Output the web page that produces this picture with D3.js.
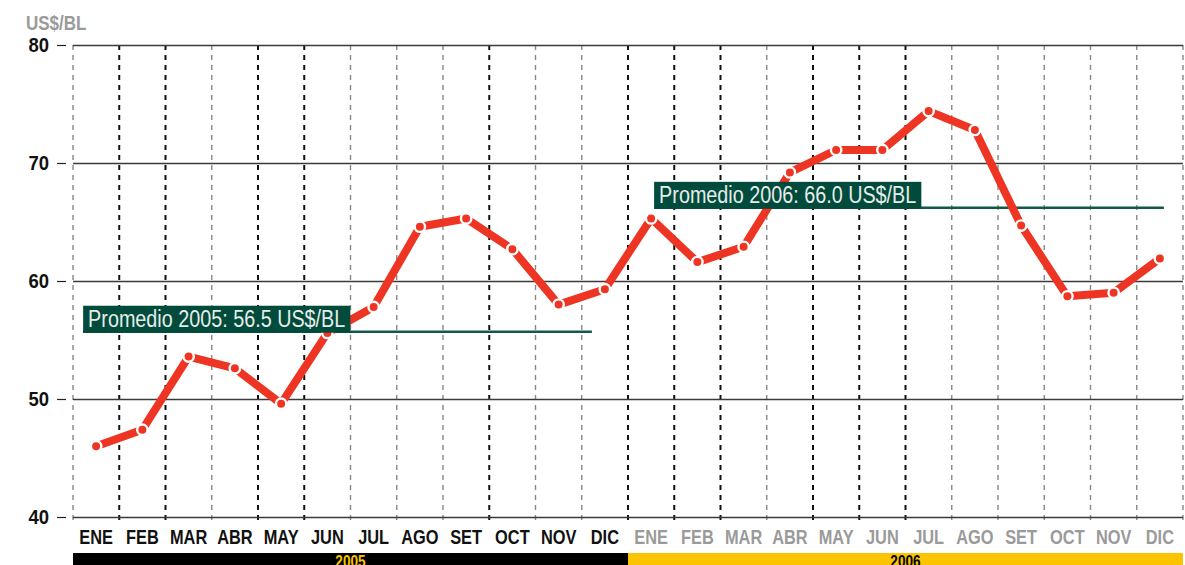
<!DOCTYPE html>
<html>
<head>
<meta charset="utf-8">
<script src="https://cdn.jsdelivr.net/npm/d3@7"></script>
<style>
  body { margin: 0; background: #fff; }
  svg { display: block; }
  text { font-family: "Liberation Sans", Arial, sans-serif; }
</style>
</head>
<body>
<div id="chart"></div>
<script>
// data
var months     = ['ENE','FEB','MAR','ABR','MAY','JUN','JUL','AGO','SET','OCT','NOV','DIC'];
var years      = ['2005','2006'];
var price2005  = [46.0, 47.4, 53.6, 52.6, 49.6, 55.6, 57.8, 64.6, 65.3, 62.7, 58.0, 59.3];
var price2006  = [65.3, 61.6, 62.9, 69.2, 71.1, 71.1, 74.4, 72.8, 64.7, 58.7, 59.0, 61.9];
var avgLevel   = [55.7, 66.2];
var avgLabel   = ['Promedio 2005: 56.5 US$/BL', 'Promedio 2006: 66.0 US$/BL'];
var yTicks     = [40, 50, 60, 70, 80];

// config
var width   = 1185
  , height  = 565
  , margin  = { top: 45, right: 2, bottom: 48, left: 73 }
  , red     = '#ee3524'
  , green   = '#004b3b'
  , yellow  = '#fcc400'
  , grey    = '#9a9a9a'
;

// squeeze a text horizontally (no condensed face installed)
function condense(sel, k) {
  sel.each(function () {
    var t = d3.select(this);
    var x0 = +t.attr('x') || 0;
    t.attr('x', x0 / k).attr('transform', 'scale(' + k + ',1)');
  });
}

var keys = [];
years.forEach(function (y) { months.forEach(function (m) { keys.push(y + '-' + m); }); });
var series = price2005.concat(price2006).map(function (v, i) { return { key: keys[i], value: v }; });

var innerW = width - margin.left - margin.right;
var innerH = height - margin.top - margin.bottom;

var x = d3.scaleBand().domain(keys).range([0, innerW]);
var y = d3.scaleLinear().domain([40, 80]).range([innerH, 0]);

var svg = d3.select('#chart').append('svg')
    .attr('width', width)
    .attr('height', height);

var g = svg.append('g').attr('transform', 'translate(' + margin.left + ',' + margin.top + ')');

// month separators (dashed), some printed darker
var darkRules = [1, 2, 4, 5, 9, 12, 13, 14, 16, 17, 18];
var bounds = d3.range(keys.length + 1);
g.append('g').selectAll('line')
    .data(bounds)
    .enter().append('line')
    .attr('x1', function (i) { return i < keys.length ? x(keys[i]) : innerW; })
    .attr('x2', function (i) { return i < keys.length ? x(keys[i]) : innerW; })
    .attr('y1', 0)
    .attr('y2', innerH + 8)
    .attr('stroke', function (i) { return darkRules.indexOf(i) >= 0 ? '#111' : '#888'; })
    .attr('stroke-width', function (i) { return darkRules.indexOf(i) >= 0 ? 2 : 1.4; })
    .attr('stroke-dasharray', '5,5');

// horizontal grid
var grid = g.append('g')
    .call(d3.axisLeft(y).tickValues(yTicks).tickSize(-innerW).tickFormat(''));
grid.select('.domain').remove();
grid.selectAll('.tick line').attr('stroke', '#3a3a3a').attr('stroke-width', 1.5);

// y axis labels with small dash
var yAxis = svg.append('g')
    .attr('transform', 'translate(' + (margin.left - 7) + ',' + margin.top + ')')
    .call(d3.axisLeft(y).tickValues(yTicks).tickSize(9).tickPadding(8));
yAxis.select('.domain').remove();
yAxis.selectAll('.tick line').attr('stroke', '#222').attr('stroke-width', 1.2);
yAxis.selectAll('.tick text')
    .attr('fill', '#111')
    .style('font-size', '21px')
    .style('font-weight', 'bold')
    .call(condense, 0.88);

svg.append('text')
    .attr('x', 26)
    .attr('y', 30)
    .attr('fill', grey)
    .style('font-size', '20px')
    .style('font-weight', 'bold')
    .text('US$/BL')
    .call(condense, 0.85);

// x axis month labels
var xAxis = g.append('g')
    .attr('transform', 'translate(0,' + innerH + ')')
    .call(d3.axisBottom(x).tickSize(0).tickPadding(12).tickFormat(function (k) { return k.split('-')[1]; }));
xAxis.select('.domain').remove();
xAxis.selectAll('.tick text')
    .attr('fill', function (k) { return k.indexOf(years[0]) === 0 ? '#111' : grey; })
    .style('font-size', '21px')
    .style('font-weight', 'bold')
    .call(condense, 0.78);

// year bars
var yearBand = d3.scaleBand().domain(years).range([0, innerW]);
var yb = g.append('g').attr('transform', 'translate(0,' + (innerH + 36) + ')');
yb.selectAll('rect')
    .data(years)
    .enter().append('rect')
    .attr('x', function (d) { return yearBand(d); })
    .attr('width', yearBand.bandwidth())
    .attr('y', 0)
    .attr('height', 20)
    .attr('fill', function (d, i) { return i === 0 ? '#000' : yellow; });
yb.selectAll('text')
    .data(years)
    .enter().append('text')
    .attr('x', function (d) { return yearBand(d) + yearBand.bandwidth() / 2; })
    .attr('y', 14)
    .attr('text-anchor', 'middle')
    .attr('fill', function (d, i) { return i === 0 ? yellow : '#000'; })
    .style('font-size', '17px')
    .style('font-weight', 'bold')
    .text(function (d) { return d; })
    .call(condense, 0.8);

var half = x.bandwidth() / 2;
var boxShift = [-13, 3];
var boxStart = function (i) { return x(keys[i * 12]) + half + boxShift[i]; };

// average lines
var avg = g.append('g');
years.forEach(function (yr, i) {
  var last = keys[i * 12 + 11];
  avg.append('line')
      .attr('x1', boxStart(i))
      .attr('x2', x(last) + half - 13 + i * 17)
      .attr('y1', y(avgLevel[i]))
      .attr('y2', y(avgLevel[i]))
      .attr('stroke', '#0f5a4a')
      .attr('stroke-width', 2.5);
});

// price line
var line = d3.line()
    .x(function (d) { return x(d.key) + half; })
    .y(function (d) { return y(d.value); });

g.append('path')
    .datum(series)
    .attr('fill', 'none')
    .attr('stroke', red)
    .attr('stroke-width', 8)
    .attr('stroke-linejoin', 'round')
    .attr('d', line);

g.append('g').selectAll('circle')
    .data(series)
    .enter().append('circle')
    .attr('cx', function (d) { return x(d.key) + half; })
    .attr('cy', function (d) { return y(d.value); })
    .attr('r', 5.2)
    .attr('fill', red)
    .attr('stroke', '#fff')
    .attr('stroke-width', 2.4);

// average labels (on top)
years.forEach(function (yr, i) {
  var by = y(avgLevel[i]) + 1;
  var lab = g.append('g').attr('transform', 'translate(' + boxStart(i) + ',' + by + ')');
  var rect = lab.append('rect').attr('fill', green);
  var t = lab.append('text')
      .attr('x', 5)
      .attr('y', -6)
      .attr('fill', '#e8ece9')
      .style('font-size', '23px')
      .text(avgLabel[i])
      .call(condense, 0.86);
  var w = t.node().getBBox().width * 0.86;
  rect.attr('x', 0).attr('y', -27).attr('width', w + 10).attr('height', 27);
});
</script>
</body>
</html>
